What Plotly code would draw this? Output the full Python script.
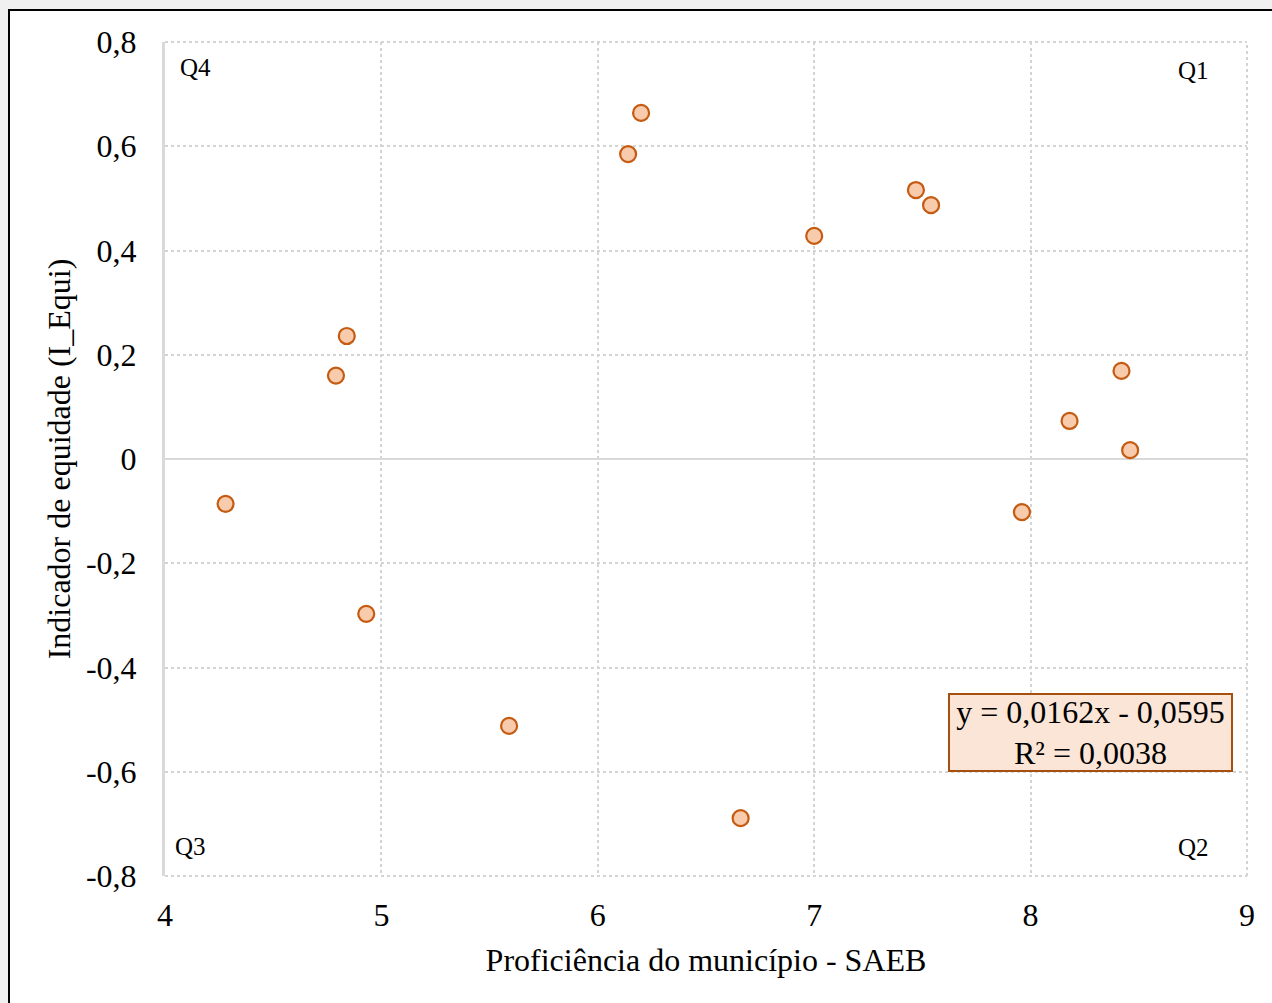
import plotly.graph_objects as go

# Data
proficiencia = [4.28, 4.79, 4.84, 4.93, 5.59, 6.14, 6.20, 6.66, 7.00, 7.47, 7.54, 7.96, 8.18, 8.42, 8.46]
i_equi = [-0.086, 0.160, 0.236, -0.297, -0.512, 0.585, 0.664, -0.689, 0.428, 0.516, 0.487, -0.102, 0.073, 0.169, 0.017]

x_ticks = [4, 5, 6, 7, 8, 9]
x_ticktext = ["4", "5", "6", "7", "8", "9"]
y_ticks = [0.8, 0.6, 0.4, 0.2, 0, -0.2, -0.4, -0.6, -0.8]
y_ticktext = ["0,8", "0,6", "0,4", "0,2", "0", "-0,2", "-0,4", "-0,6", "-0,8"]

equation_text = "y = 0,0162x - 0,0595<br>R² = 0,0038"
quadrants = [("Q4", 4.06, 0.752), ("Q1", 8.672, 0.746), ("Q3", 4.037, -0.744), ("Q2", 8.672, -0.746)]

FONT = "Liberation Serif, Times New Roman, serif"
W, H = 1272, 1003
L, R, T, B = 165, 25, 42, 127
pw, ph = W - L - R, H - T - B
GRID = "#d4d4d4"

fig = go.Figure()
fig.add_trace(go.Scatter(
    x=proficiencia, y=i_equi, mode="markers",
    marker=dict(size=16, color="#f8cbad", line=dict(color="#c55a11", width=2.2)),
    showlegend=False, hoverinfo="x+y",
))

def px_to_paper_x(px):
    return (px - L) / pw

def px_to_paper_y(py):
    return (H - B - py) / ph

# outer black frame (white chart area)
fig.add_shape(type="rect", xref="paper", yref="paper", layer="below",
              x0=px_to_paper_x(9), x1=px_to_paper_x(1290),
              y0=px_to_paper_y(1020), y1=px_to_paper_y(10),
              fillcolor="white", line=dict(color="black", width=2))

# dotted grid lines on the plot-area edges (top and right)
fig.add_shape(type="line", xref="paper", yref="paper", layer="below",
              x0=0, x1=1, y0=1, y1=1, line=dict(color=GRID, width=2, dash="dot"))
fig.add_shape(type="line", xref="paper", yref="paper", layer="below",
              x0=1, x1=1, y0=0, y1=1, line=dict(color=GRID, width=2, dash="dot"))
fig.add_shape(type="line", xref="paper", yref="paper", layer="below",
              x0=0, x1=1, y0=0, y1=0, line=dict(color=GRID, width=2, dash="dot"))

for label, qx, qy in quadrants:
    fig.add_annotation(x=qx, y=qy, text=label, showarrow=False,
                       xanchor="left", yanchor="middle",
                       font=dict(family=FONT, size=25, color="black"))

fig.add_annotation(x=8.277, y=-0.5247, text=equation_text, showarrow=False,
                   xanchor="center", yanchor="middle", align="center",
                   width=279, height=73,
                   bgcolor="#fbe5d6", bordercolor="#a5500f", borderwidth=2, borderpad=1,
                   font=dict(family=FONT, size=32, color="black"))

fig.update_layout(
    width=W, height=H,
    margin=dict(l=L, r=R, t=T, b=B),
    paper_bgcolor="#f0f0f0",
    plot_bgcolor="rgba(0,0,0,0)",
    font=dict(family=FONT, size=32, color="black"),
    xaxis=dict(
        range=[4, 9], tickvals=x_ticks, ticktext=x_ticktext,
        showgrid=True, gridcolor=GRID, griddash="dot", gridwidth=2,
        showline=False, zeroline=False, ticks="", ticklabelstandoff=17,
        title=dict(text="Proficiência do município - SAEB", standoff=16,
                   font=dict(family=FONT, size=32)),
        tickfont=dict(family=FONT, size=32),
    ),
    yaxis=dict(
        range=[-0.8, 0.8], tickvals=y_ticks, ticktext=y_ticktext,
        showgrid=True, gridcolor=GRID, griddash="dot", gridwidth=2,
        showline=True, linecolor="#d9d9d9", linewidth=3,
        zeroline=True, zerolinecolor="#d9d9d9", zerolinewidth=2,
        ticks="", ticklabelstandoff=19,
        title=dict(text="Indicador de equidade (I_Equi)", standoff=6,
                   font=dict(family=FONT, size=32)),
        tickfont=dict(family=FONT, size=32),
    ),
)

fig.write_html("out.html", config={"displayModeBar": False},
               post_script="document.body.style.margin='0';document.body.style.background='#f0f0f0';")
